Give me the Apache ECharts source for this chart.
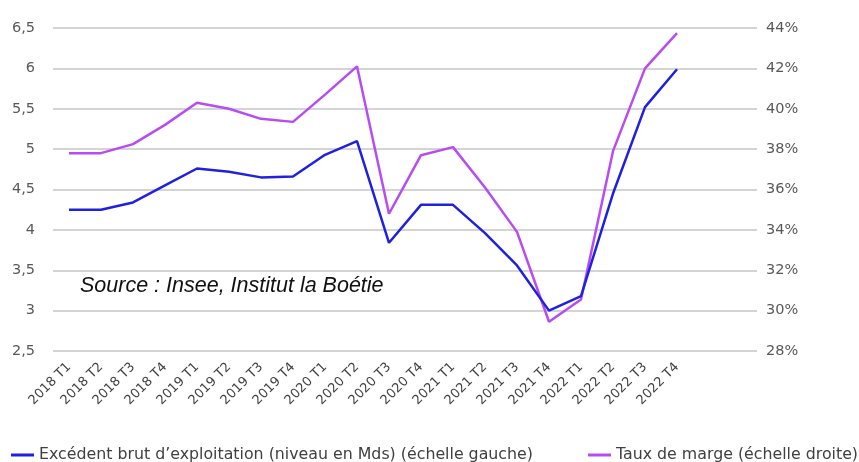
<!DOCTYPE html>
<html>
<head>
<meta charset="utf-8">
<script src="https://cdn.jsdelivr.net/npm/echarts@6/dist/echarts.min.js"></script>
<style>
  html, body { margin: 0; padding: 0; background: #fff; }
  #chart { width: 859px; height: 462px; }
</style>
</head>
<body>
<div id="chart"></div>
<script>
const trimestres = [
  '2018 T1', '2018 T2', '2018 T3', '2018 T4',
  '2019 T1', '2019 T2', '2019 T3', '2019 T4',
  '2020 T1', '2020 T2', '2020 T3', '2020 T4',
  '2021 T1', '2021 T2', '2021 T3', '2021 T4',
  '2022 T1', '2022 T2', '2022 T3', '2022 T4'
];

// Excédent brut d'exploitation (Mds, échelle gauche)
const ebe = [4.25, 4.25, 4.34, 4.55, 4.76, 4.72, 4.65, 4.66, 4.93, 5.10,
             3.84, 4.31, 4.31, 3.96, 3.56, 3.00, 3.18, 4.45, 5.52, 5.99];

// Taux de marge (%, échelle droite)
const tauxMarge = [37.8, 37.8, 38.25, 39.2, 40.3, 40.0, 39.5, 39.35, 40.7, 42.1,
                   34.8, 37.7, 38.1, 36.1, 33.9, 29.45, 30.55, 37.9, 42.0, 43.75];

const ticksGauche = [2.5, 6.5, 0.5];
const ticksDroite = [28, 44, 2];

const nomEbe = 'Excédent brut d\u2019exploitation (niveau en Mds) (échelle gauche)';
const nomTaux = 'Taux de marge (échelle droite)';

// deux catégories vides pour prolonger le quadrillage à droite
const categories = trimestres.concat(['', '']);

const chart = echarts.init(document.getElementById('chart'));

const legendeBase = {
  top: 442,
  itemWidth: 23,
  itemHeight: 3,
  icon: 'rect',
  textStyle: { fontSize: 15.8, color: '#404040', fontFamily: 'DejaVu Sans' }
};

chart.setOption({
  animation: false,
  textStyle: { fontFamily: 'DejaVu Sans' },
  grid: { left: 53, top: 28, width: 704, height: 323 },
  legend: [
    Object.assign({}, legendeBase, { left: 6, data: [nomEbe] }),
    Object.assign({}, legendeBase, { left: 583, data: [nomTaux] })
  ],
  xAxis: {
    type: 'category',
    data: categories,
    axisLine: { show: false },
    axisTick: { show: false },
    axisLabel: {
      rotate: 45,
      interval: 0,
      margin: 14,
      fontSize: 13,
      color: '#404040'
    }
  },
  yAxis: [
    {
      type: 'value',
      min: ticksGauche[0],
      max: ticksGauche[1],
      interval: ticksGauche[2],
      axisLine: { show: false },
      axisTick: { show: false },
      axisLabel: {
        margin: 18,
        fontSize: 14.5,
        color: '#595959',
        formatter: v => String(v).replace('.', ',')
      },
      splitLine: { lineStyle: { color: '#d4d4d4', width: 2 } }
    },
    {
      type: 'value',
      min: ticksDroite[0],
      max: ticksDroite[1],
      interval: ticksDroite[2],
      axisLine: { show: false },
      axisTick: { show: false },
      axisLabel: {
        margin: 9,
        fontSize: 14.5,
        color: '#595959',
        formatter: '{value}%'
      },
      splitLine: { show: false }
    }
  ],
  series: [
    {
      name: nomEbe,
      type: 'line',
      yAxisIndex: 0,
      data: ebe,
      symbol: 'none',
      lineStyle: { color: '#2020e0', width: 2.5 },
      itemStyle: { color: '#2020e0' },
      z: 3
    },
    {
      name: nomTaux,
      type: 'line',
      yAxisIndex: 1,
      data: tauxMarge,
      symbol: 'none',
      lineStyle: { color: '#b84cf4', width: 2.5 },
      itemStyle: { color: '#b84cf4' },
      z: 2
    }
  ],
  graphic: [
    {
      type: 'group',
      z: 100,
      children: [
        {
          type: 'rect',
          shape: { x: 60, y: 258, width: 348, height: 64 },
          style: { fill: '#ffffff' }
        },
        {
          type: 'text',
          x: 80,
          y: 286,
          style: {
            text: 'Source : Insee, Institut la Boétie',
            fontFamily: 'Liberation Sans',
            fontStyle: 'italic',
            fontSize: 21.5,
            fill: '#111',
            verticalAlign: 'middle'
          }
        }
      ]
    }
  ]
});
</script>
</body>
</html>
